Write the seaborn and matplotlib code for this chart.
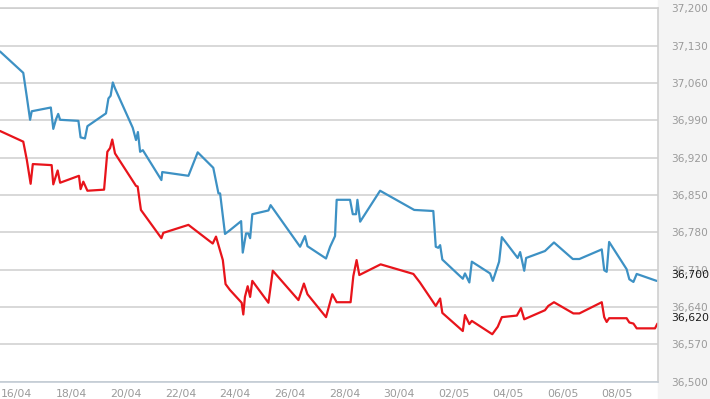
import matplotlib
matplotlib.use('Agg')
import matplotlib.pyplot as plt
import matplotlib.dates as mdates
from matplotlib.patches import Rectangle
from matplotlib.ticker import FuncFormatter
import numpy as np
import pandas as pd
import seaborn as sns

# day offsets from 16/04 and prices
start = pd.Timestamp('2024-04-16')

blue_days = [-0.61, 0.24, 0.37, 0.49, 0.55, 1.25, 1.34, 1.44, 1.52, 1.59, 2.26, 2.34, 2.50, 2.59,
             3.27, 3.36, 3.44, 3.52, 3.60, 4.25, 4.37, 4.44, 4.52, 4.62, 5.30, 5.33, 6.29, 6.63,
             7.20, 7.39, 7.45, 7.63, 7.81, 8.22, 8.28, 8.40, 8.48, 8.55, 8.63, 9.22, 9.30, 10.38,
             10.56, 10.65, 11.33, 11.48, 11.66, 11.72, 12.21, 12.31, 12.43, 12.48, 12.58, 13.31,
             14.56, 15.26, 15.35, 15.44, 15.51, 15.59, 16.34, 16.42, 16.58, 16.67, 17.34, 17.44,
             17.67, 17.77, 18.35, 18.44, 18.59, 18.66, 19.35, 19.68, 20.37, 20.61, 21.43, 21.52,
             21.61, 21.70, 22.34, 22.44, 22.59, 22.71, 23.44]
blue_vals = [37119, 37079, 37034, 36991, 37007, 37014, 36974, 36992, 37002, 36991, 36989, 36958, 36956, 36979,
             37003, 37031, 37036, 37061, 37050, 36976, 36953, 36968, 36931, 36934, 36878, 36893, 36886, 36930,
             36901, 36853, 36853, 36777, 36784, 36801, 36742, 36778, 36778, 36769, 36814, 36821, 36831, 36753,
             36773, 36754, 36731, 36753, 36773, 36841, 36841, 36814, 36814, 36841, 36800, 36858,
             36822, 36820, 36753, 36751, 36756, 36729, 36693, 36703, 36686, 36725, 36703, 36689,
             36725, 36771, 36732, 36743, 36708, 36732, 36745, 36761, 36730, 36730, 36748, 36709,
             36706, 36762, 36711, 36692, 36687, 36702, 36689]

red_days = [-0.61, 0.24, 0.37, 0.51, 0.59, 1.28, 1.34, 1.50, 1.59, 2.28, 2.34, 2.44, 2.59, 3.20,
            3.32, 3.42, 3.50, 3.60, 4.37, 4.43, 4.55, 5.30, 5.37, 6.29, 7.18, 7.30, 7.55, 7.65,
            7.81, 8.24, 8.30, 8.36, 8.46, 8.55, 8.63, 9.22, 9.38, 10.32, 10.52, 10.65, 11.33, 11.56,
            11.72, 12.23, 12.33, 12.45, 12.55, 13.33, 14.53, 14.77, 15.35, 15.51, 15.59, 16.34,
            16.42, 16.58, 16.67, 17.42, 17.62, 17.77, 18.32, 18.47, 18.59, 19.35, 19.47, 19.68,
            20.39, 20.61, 21.43, 21.52, 21.61, 21.70, 22.34, 22.44, 22.59, 22.71, 23.38, 23.47]
red_vals = [36970, 36950, 36916, 36871, 36908, 36906, 36870, 36896, 36873, 36886, 36861, 36875, 36858, 36860,
            36931, 36938, 36954, 36928, 36867, 36866, 36822, 36769, 36779, 36794, 36759, 36772, 36728, 36683,
            36672, 36648, 36626, 36659, 36679, 36659, 36689, 36648, 36708, 36653, 36684, 36664, 36621, 36664,
            36649, 36649, 36698, 36728, 36700, 36720, 36702, 36686, 36642, 36656, 36629, 36595,
            36625, 36608, 36614, 36589, 36603, 36621, 36624, 36638, 36617, 36634, 36642, 36649,
            36628, 36628, 36649, 36621, 36612, 36619, 36619, 36611, 36609, 36600, 36600, 36609]

last_labels = ['36,700', '36,620']
last_label_vals = [36700, 36620]

y_ticks = np.arange(36500, 37201, 70)
x_ticks = pd.date_range('2024-04-16', '2024-05-08', freq='2D')

blue_df = pd.DataFrame({'date': start + pd.to_timedelta(blue_days, unit='D'), 'price': blue_vals})
red_df = pd.DataFrame({'date': start + pd.to_timedelta(red_days, unit='D'), 'price': red_vals})

sns.set_style('white')
plt.rcParams['font.family'] = ['DejaVu Sans']

fig = plt.figure(figsize=(7.1, 3.99), dpi=100)
fig.patch.set_facecolor('white')
fig.add_artist(Rectangle((658 / 710, 0), 52 / 710, 1, transform=fig.transFigure,
                         color='#f4f4f4', zorder=-1))
ax = fig.add_axes([0, 17.3 / 399, 658 / 710, 373.4 / 399])
ax.set_facecolor('white')

sns.lineplot(data=blue_df, x='date', y='price', ax=ax, color='#3d91c4', linewidth=1.6,
             estimator=None, sort=False)
sns.lineplot(data=red_df, x='date', y='price', ax=ax, color='#e8141b', linewidth=1.6,
             estimator=None, sort=False)

ax.set_ylim(36500, 37200)
ax.set_xlim(start + pd.Timedelta(days=-0.612), start + pd.Timedelta(days=23.49))
ax.set_yticks(y_ticks)
ax.set_xticks(x_ticks)
ax.xaxis.set_major_formatter(mdates.DateFormatter('%d/%m'))
ax.yaxis.set_major_formatter(FuncFormatter(lambda v, p: f'{v:,.0f}'))
ax.yaxis.tick_right()
ax.set_xlabel('')
ax.set_ylabel('')

ax.grid(axis='y', color='#d2d2d2', linewidth=1.2)
ax.grid(axis='x', visible=False)
ax.tick_params(axis='y', length=0, pad=9.5, labelsize=7.6, labelcolor='#9a9a9a')
ax.tick_params(axis='x', direction='out', length=10, width=0.8, color='#d0d0d0',
               pad=-5, labelsize=7.8, labelcolor='#9a9a9a')
for lbl in ax.get_yticklabels():
    lbl.set_horizontalalignment('left')

ax.spines['left'].set_visible(False)
ax.spines['top'].set_color('#cfcfcf')
ax.spines['right'].set_color('#cfcfcf')
ax.spines['bottom'].set_color('#c3ccd5')
for s in ['top', 'right', 'bottom']:
    ax.spines[s].set_linewidth(1.2)

for txt, val in zip(last_labels, last_label_vals):
    ax.text(1.0198, val, txt, transform=ax.get_yaxis_transform(), ha='left', va='center',
            fontsize=7.8, color='#1a1a1a', clip_on=False)

fig.savefig('out.png', dpi=100)
